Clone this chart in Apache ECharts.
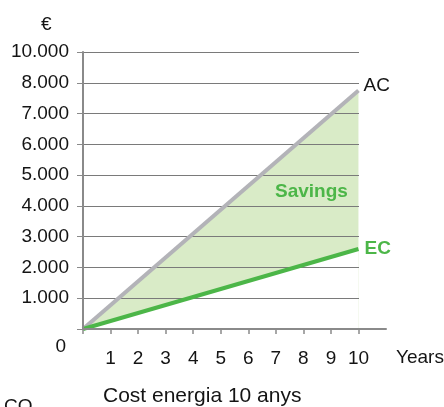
<!DOCTYPE html>
<html>
<head>
<meta charset="utf-8">
<script src="https://cdn.jsdelivr.net/npm/echarts@6/dist/echarts.min.js"></script>
<style>
  html, body { margin: 0; padding: 0; background: #fff; }
  #chart { width: 444px; height: 407px; }
</style>
</head>
<body>
<div id="chart"></div>
<script>
// Cumulative energy cost over ten years
const years = [0, 10];
const acCost = [0, 7750];
const ecCost = [0, 2600];
const yearTicks = [1, 2, 3, 4, 5, 6, 7, 8, 9, 10];
const tickMarks = [0, 1, 2, 3, 4, 5, 6, 7, 8, 9, 10];
const yTickValues = [0, 1000, 2000, 3000, 4000, 5000, 6000, 7000, 8000, 9000];
const yTickLabels = ['0', '1.000', '2.000', '3.000', '4.000', '5.000', '6.000', '7.000', '8.000', '10.000'];

const FONT = '"Liberation Sans", Arial, sans-serif';
const GREEN = '#4cb648';
const GREY = '#b3b3b8';
const FILL = '#d9ebc7';
const AXIS = '#8a8a8a';
const INK = '#141414';

const chart = echarts.init(document.getElementById('chart'), null, { renderer: 'canvas' });

const pairs = (xs, ys) => xs.map((x, i) => [x, ys[i]]);

chart.setOption({
  animation: false,
  textStyle: { fontFamily: FONT },
  grid: [
    { left: 83, right: 58, top: 52, bottom: 78 },
    { left: 83, width: 276, top: 52, bottom: 78 }
  ],
  xAxis: [
    {
      type: 'value', gridIndex: 0, min: 0, max: 11, interval: 1, z: 5,
      axisLine: { show: true, lineStyle: { color: AXIS, width: 2 } },
      axisTick: { show: true, length: 5, customValues: tickMarks, lineStyle: { color: AXIS, width: 1.5 } },
      axisLabel: { customValues: yearTicks, margin: 20, color: INK, fontSize: 19, fontFamily: FONT },
      splitLine: { show: false }
    },
    {
      type: 'value', gridIndex: 1, min: 0, max: 10, show: false,
      splitLine: { show: false }
    }
  ],
  yAxis: [
    {
      type: 'value', gridIndex: 0, min: 0, max: 9000, interval: 1000, z: 5,
      axisLine: { show: true, lineStyle: { color: AXIS, width: 2 } },
      axisTick: { show: true, length: 6, lineStyle: { color: AXIS, width: 1 } },
      axisLabel: {
        margin: 14, color: INK, fontSize: 19, fontFamily: FONT,
        customValues: yTickValues,
        formatter: v => {
          const t = yTickLabels[yTickValues.indexOf(v)];
          return v === 0 ? '{z|' + t + '}' : t;
        },
        rich: { z: { fontSize: 19, fontFamily: FONT, color: INK, padding: [35, 3, 0, 0] } }
      },
      splitLine: { show: false }
    },
    {
      type: 'value', gridIndex: 1, min: 0, max: 9000, interval: 1000, z: 2,
      axisLine: { show: false }, axisTick: { show: false }, axisLabel: { show: false },
      splitLine: { show: true, lineStyle: { color: '#7a7a7a', width: 1 } }
    }
  ],
  series: [
    {
      name: 'AC fill', type: 'line', xAxisIndex: 0, yAxisIndex: 0, z: 1,
      data: pairs(years, acCost), symbol: 'none',
      lineStyle: { width: 0 }, areaStyle: { color: FILL, opacity: 1 }
    },
    {
      name: 'EC fill', type: 'line', xAxisIndex: 0, yAxisIndex: 0, z: 1,
      data: pairs(years, ecCost), symbol: 'none',
      lineStyle: { width: 0 }, areaStyle: { color: '#ffffff', opacity: 1 }
    },
    {
      name: 'AC', type: 'line', xAxisIndex: 0, yAxisIndex: 0, z: 4,
      data: pairs(years, acCost), symbol: 'none',
      lineStyle: { color: GREY, width: 4, cap: 'butt' },
      endLabel: { show: true, formatter: 'AC', color: INK, fontSize: 19, fontFamily: FONT, distance: 5, offset: [0, -5] }
    },
    {
      name: 'EC', type: 'line', xAxisIndex: 0, yAxisIndex: 0, z: 4,
      data: pairs(years, ecCost), symbol: 'none',
      lineStyle: { color: GREEN, width: 4, cap: 'butt' },
      endLabel: { show: true, formatter: 'EC', color: GREEN, fontWeight: 'bold', fontSize: 19, fontFamily: FONT, distance: 6, offset: [0, 0] }
    }
  ],
  graphic: [
    { type: 'text', left: 275, top: 182, z: 10,
      style: { text: 'Savings', fill: GREEN, font: 'bold 19px ' + FONT } },
    { type: 'text', left: 41, top: 15, z: 10,
      style: { text: '€', fill: INK, font: '19px ' + FONT } },
    { type: 'text', left: 396, top: 348, z: 10,
      style: { text: 'Years', fill: INK, font: '19px ' + FONT } },
    { type: 'text', left: 103, top: 386, z: 10,
      style: { text: 'Cost energia 10 anys', fill: INK, font: '21px ' + FONT } },
    { type: 'text', left: 4, top: 397, z: 10,
      style: { text: 'CO', fill: INK, font: '19px ' + FONT } }
  ]
});
</script>
</body>
</html>
